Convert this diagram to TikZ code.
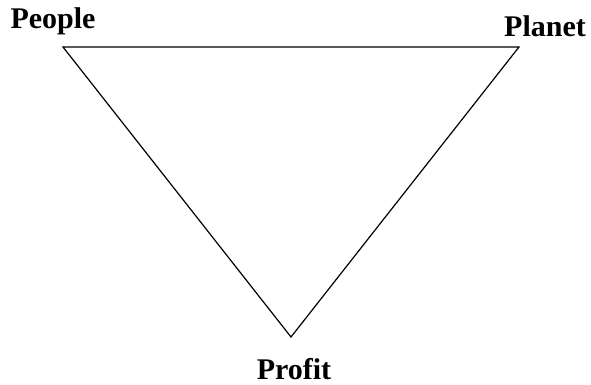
\documentclass[tikz,border=0pt]{standalone}
\usepackage{fontspec}
\setmainfont{Liberation Serif}
\begin{document}
\begin{tikzpicture}[
            x={(0.5pt,0pt)},
            y={(0pt,-0.5pt)},
            label/.style={anchor=base, inner sep=0pt, font=\fontsize{15}{18}\selectfont\bfseries},
            edge/.style={line width=0.6pt, line join=miter}
        ]
        \useasboundingbox (0,0) rectangle (591,385);
        \coordinate (PeopleV) at (63,47);
        \coordinate (PlanetV) at (519,47);
        \coordinate (ProfitV) at (291,337);

        \draw[edge] (PeopleV) -- (PlanetV) -- (ProfitV) -- cycle;

        \node[label] (people) at (53,29) {People};
        \node[label] (planet) at (545,37) {Planet};
        \node[label] (profit) at (294,380) {Profit};

    \end{tikzpicture}
\end{document}
